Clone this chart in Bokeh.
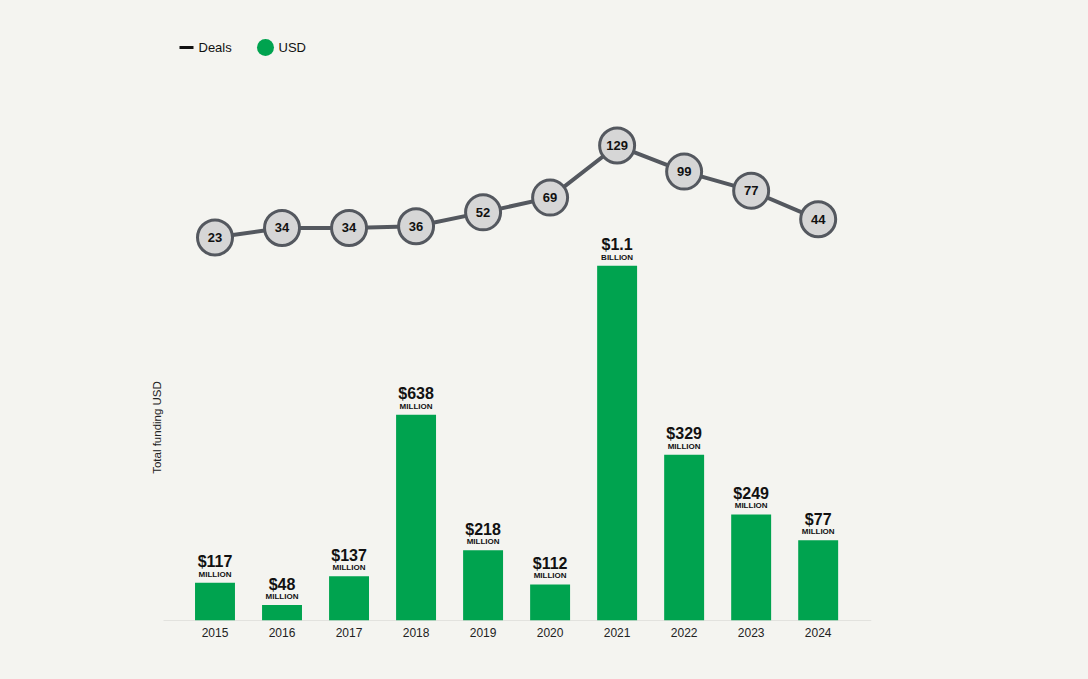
import math
from bokeh.plotting import figure
from bokeh.models import Range1d, FixedTicker, ColumnDataSource, Label
from bokeh.core.properties import value
from bokeh.embed import file_html
from bokeh.resources import INLINE

# ---- data ----
years = [2015, 2016, 2017, 2018, 2019, 2020, 2021, 2022, 2023, 2024]
# bar heights as drawn in the picture (USD millions)
funding_bar_heights = [117, 48, 137, 638, 218, 112, 1100, 514, 329, 249]
# printed labels
funding_label_amounts = ["$117", "$48", "$137", "$638", "$218", "$112", "$1.1", "$329", "$249", "$77"]
funding_label_units = ["MILLION", "MILLION", "MILLION", "MILLION", "MILLION", "MILLION",
                       "BILLION", "MILLION", "MILLION", "MILLION"]
deals = [23, 34, 34, 36, 52, 69, 129, 99, 77, 44]

# ---- styles ----
BG = "#f4f4f0"
GREEN = "#00a34f"
LINE_GRAY = "#54585f"
CIRCLE_FILL = "#d6d6d6"
FONT = "Liberation Sans"

# frame placement (picture pixels)
F_LEFT, F_TOP, F_RIGHT, F_BOTTOM = 140, 16, 871, 620
FRAME_W, FRAME_H = F_RIGHT - F_LEFT, F_BOTTOM - F_TOP
PX_PER_YEAR = 67.02
X0 = 2015 - (214.5 - F_LEFT) / PX_PER_YEAR
X1 = X0 + FRAME_W / PX_PER_YEAR
Y0, Y1 = 0, 1873
D0, D1 = -418.3, 277.7

W, H = 1072, 663
p = figure(width=W, height=H, output_backend="svg", toolbar_location=None,
           x_range=Range1d(X0, X1), y_range=Range1d(Y0, Y1),
           frame_width=FRAME_W, frame_height=FRAME_H,
           min_border_left=F_LEFT, min_border_right=W - F_RIGHT,
           min_border_top=F_TOP, min_border_bottom=H - F_BOTTOM)
p.extra_y_ranges = {"deals": Range1d(D0, D1)}
p.background_fill_color = BG
p.border_fill_color = BG
p.outline_line_color = None
p.grid.visible = False
p.yaxis.visible = False

def px_x(px):
    return X0 + (px - F_LEFT) / FRAME_W * (X1 - X0)

def px_y(py):
    return Y0 + (F_BOTTOM - py) / FRAME_H * (Y1 - Y0)

src = ColumnDataSource(dict(year=years, h=funding_bar_heights, amt=funding_label_amounts,
                            unit=funding_label_units, deals=deals, dl=[str(d) for d in deals]))

# baseline
p.segment(x0=[px_x(163)], y0=[0], x1=[px_x(871)], y1=[0], line_color="#cfcfcc", line_width=1)

p.vbar(x="year", top="h", width=0.596, source=src, fill_color=GREEN, line_color=None)
p.text(x="year", y="h", text="amt", source=src, y_offset=-21, text_align="center",
       text_baseline="middle", text_font=value(FONT), text_font_style="bold",
       text_font_size="16px", text_color="#111111")
p.text(x="year", y="h", text="unit", source=src, y_offset=-8.5, text_align="center",
       text_baseline="middle", text_font=value(FONT), text_font_style="bold",
       text_font_size="8px", text_color="#111111")

p.line(x="year", y="deals", source=src, y_range_name="deals", line_color=LINE_GRAY, line_width=4)
p.scatter(x="year", y="deals", source=src, y_range_name="deals", size=35,
          fill_color=CIRCLE_FILL, line_color=LINE_GRAY, line_width=3)
p.text(x="year", y="deals", text="dl", source=src, y_range_name="deals", text_align="center",
       text_baseline="middle", text_font=value(FONT), text_font_style="bold",
       text_font_size="13px", text_color="#111111")

# x axis
ax = p.xaxis[0]
ax.ticker = FixedTicker(ticks=years)
ax.major_tick_line_color = None
ax.minor_tick_line_color = None
ax.major_tick_out = 0
ax.major_label_standoff = 7
ax.axis_line_color = None
ax.major_label_text_font = FONT
ax.major_label_text_font_size = "12px"
ax.major_label_text_color = "#222222"

# y title
p.add_layout(Label(x=px_x(156), y=px_y(427), text="Total funding USD", angle=math.pi / 2,
                   text_align="center", text_baseline="middle", text_font=FONT,
                   text_font_size="11.5px", text_color="#222222"))

# legend
p.line(x=[px_x(179), px_x(193)], y=[px_y(47), px_y(47)], line_color="#111111", line_width=3)
p.add_layout(Label(x=px_x(198), y=px_y(47), text="Deals", text_align="left",
                   text_baseline="middle", text_font=FONT, text_font_size="13px",
                   text_color="#111111"))
p.scatter(x=[px_x(265)], y=[px_y(47)], size=17, fill_color=GREEN, line_color=None)
p.add_layout(Label(x=px_x(278), y=px_y(47), text="USD", text_align="left",
                   text_baseline="middle", text_font=FONT, text_font_size="13px",
                   text_color="#111111"))

html = file_html(p, INLINE)
html = html.replace("</head>", "<style>html,body{background:%s;}</style></head>" % BG, 1)
open("out.html", "w").write(html)
